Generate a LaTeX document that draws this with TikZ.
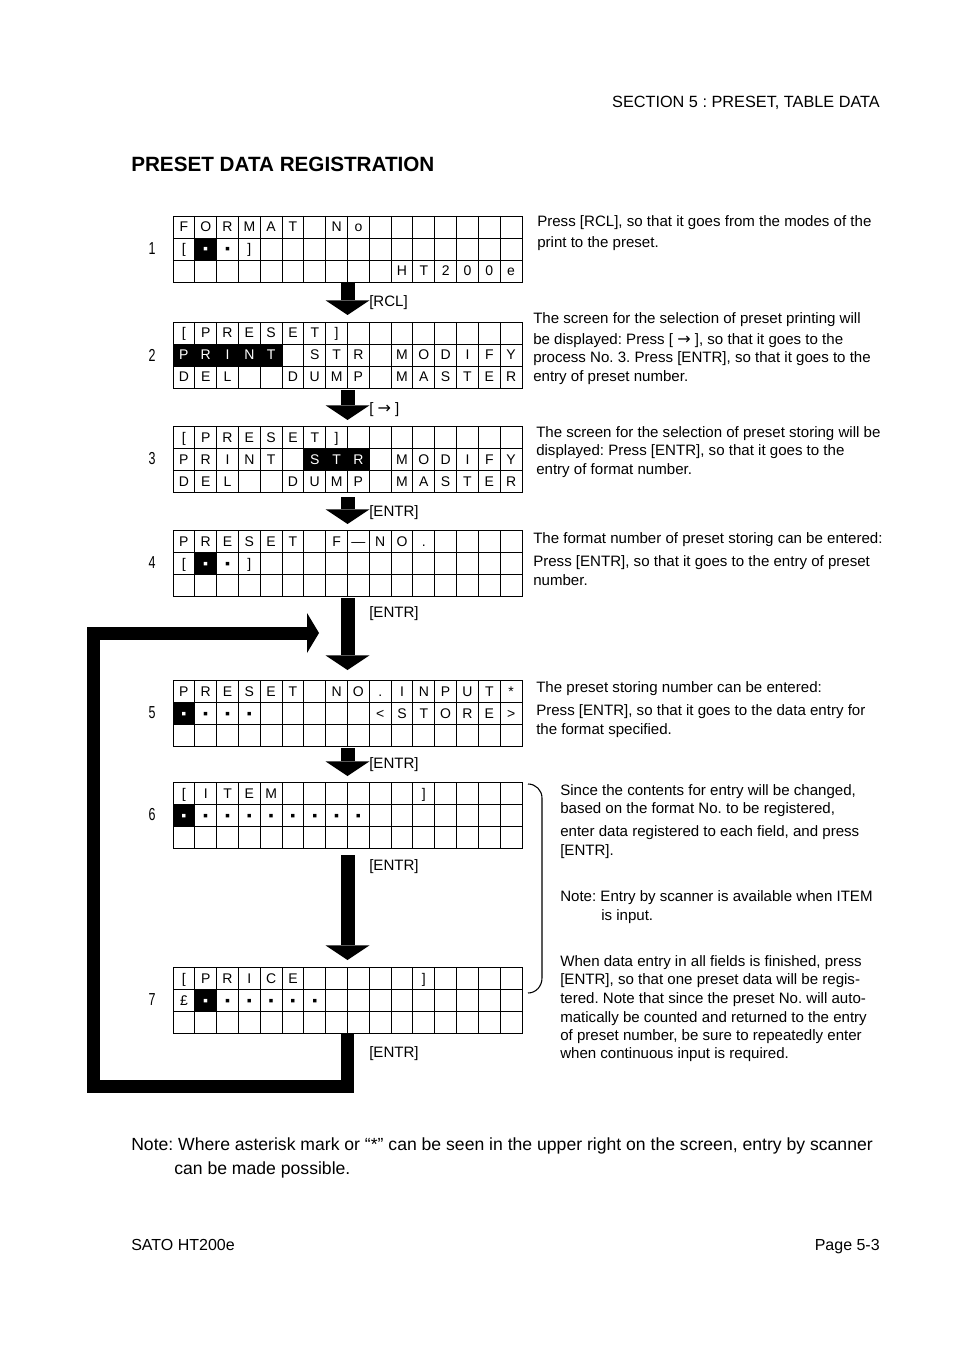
\documentclass[tikz,border=0pt]{standalone}
\usepackage{fontspec}
\setmainfont{Liberation Sans}
\newfontfamily\numfont[FakeStretch=0.72]{Liberation Sans}
\newfontfamily\arrowfont{DejaVu Sans}
\usetikzlibrary{arrows.meta}
\frenchspacing

\newcommand{\lcdw}{21.8125}
\newcommand{\lcddot}{▪}
\newcommand{\lcdinv}[1]{\textcolor{white}{#1}}
\newcommand{\rarr}{{\arrowfont\fontsize{12}{12}\selectfont →}}

% one LCD screen: name, top edge, step number
\newcommand{\lcdscreen}[3]{%
  \node[screen] (#1) at (347.5,#2+33) {};
  \node[stepnum] (#1num) at (152,#2+33) {#3};}
% inner rules: screen, rows that carry column rules
\newcommand{\lcdgrid}[2]{%
  \begin{scope}[shift={(#1.north west)}]
    \draw[gridline] (0,22) -- (349,22) (0,44) -- (349,44);
    \foreach \r in {#2}
      \foreach \k in {1,...,15}
        \draw[gridline] (\k*\lcdw,\r*22-22) -- (\k*\lcdw,\r*22);
  \end{scope}}
% black cursor cells: screen, row, first col, last col
\newcommand{\lcdfill}[4]{%
  \begin{scope}[shift={(#1.north west)}]
    \fill (#3*\lcdw-\lcdw,#2*22-22) rectangle (#4*\lcdw,#2*22);
  \end{scope}}
% characters of one row: screen, row, list
\newcommand{\lcdrow}[3]{%
  \begin{scope}[shift={(#1.north west)}]
    \foreach \ch [count=\i] in {#3}
      \node[lcd] (#1r#2c\i) at (\i*\lcdw-0.5*\lcdw,#2*22-6) {\ch};
  \end{scope}}

\begin{document}
\begin{tikzpicture}[x=0.75pt,y=-0.75pt,
  screen/.style={draw,line width=0.7pt,minimum width=261.75pt,minimum height=49.5pt,inner sep=0pt,outer sep=0pt},
  gridline/.style={line width=0.7pt},
  lcd/.style={anchor=base,inner sep=0pt,font=\fontsize{10.5}{12}\selectfont},
  stepnum/.style={inner sep=0pt,font=\numfont\fontsize{13}{15}\selectfont},
  keylbl/.style={anchor=base west,inner sep=0pt,font=\fontsize{11.3}{13}\selectfont},
  note/.style={anchor=base west,inner sep=0pt,font=\fontsize{11.3}{13}\selectfont},
  blockarrow/.style={line width=10.5pt,-{Triangle[width=33pt,length=11pt,line width=0pt]}},
  looparrow/.style={line width=9.75pt,line join=miter,-{Triangle[width=30pt,length=9pt,line width=0pt]}}]
  \useasboundingbox (0,0) rectangle (954,1351);

  % page head
  \node[anchor=base east,inner sep=0pt,font=\fontsize{12.2}{14}\selectfont] (head) at (880,107.5) {SECTION 5 : PRESET, TABLE DATA};
  \node[anchor=base west,inner sep=0pt,font=\bfseries\fontsize{15.5}{18}\selectfont] (title) at (131,172) {PRESET DATA REGISTRATION};

  % screens
  \lcdscreen{s1}{216}{1}
  \lcdscreen{s2}{322}{2}
  \lcdscreen{s3}{426}{3}
  \lcdscreen{s4}{530}{4}
  \lcdscreen{s5}{680}{5}
  \lcdscreen{s6}{782}{6}
  \lcdscreen{s7}{967}{7}
  \foreach \s in {s1,s2,s3,s4,s5,s6,s7} {\lcdgrid{\s}{1,2,3}}
  \lcdfill{s1}{2}{2}{2} \lcdfill{s2}{2}{1}{5} \lcdfill{s3}{2}{7}{9}
  \lcdfill{s4}{2}{2}{2} \lcdfill{s5}{2}{1}{1} \lcdfill{s6}{2}{1}{1} \lcdfill{s7}{2}{2}{2}

  \lcdrow{s1}{1}{F,O,R,M,A,T,{},N,o}
  \lcdrow{s1}{2}{[,\lcdinv{\lcddot},\lcddot,]}
  \lcdrow{s1}{3}{{},{},{},{},{},{},{},{},{},{},H,T,2,0,0,e}

  \lcdrow{s2}{1}{[,P,R,E,S,E,T,]}
  \lcdrow{s2}{2}{\lcdinv{P},\lcdinv{R},\lcdinv{I},\lcdinv{N},\lcdinv{T},{},S,T,R,{},M,O,D,I,F,Y}
  \lcdrow{s2}{3}{D,E,L,{},{},D,U,M,P,{},M,A,S,T,E,R}

  \lcdrow{s3}{1}{[,P,R,E,S,E,T,]}
  \lcdrow{s3}{2}{P,R,I,N,T,{},\lcdinv{S},\lcdinv{T},\lcdinv{R},{},M,O,D,I,F,Y}
  \lcdrow{s3}{3}{D,E,L,{},{},D,U,M,P,{},M,A,S,T,E,R}

  \lcdrow{s4}{1}{P,R,E,S,E,T,{},F,—,N,O,.}
  \lcdrow{s4}{2}{[,\lcdinv{\lcddot},\lcddot,]}

  \lcdrow{s5}{1}{P,R,E,S,E,T,{},N,O,.,I,N,P,U,T,*}
  \lcdrow{s5}{2}{\lcdinv{\lcddot},\lcddot,\lcddot,\lcddot,{},{},{},{},{},<,S,T,O,R,E,>}

  \lcdrow{s6}{1}{[,I,T,E,M,{},{},{},{},{},{},]}
  \lcdrow{s6}{2}{\lcdinv{\lcddot},\lcddot,\lcddot,\lcddot,\lcddot,\lcddot,\lcddot,\lcddot,\lcddot}

  \lcdrow{s7}{1}{[,P,R,I,C,E,{},{},{},{},{},]}
  \lcdrow{s7}{2}{£,\lcdinv{\lcddot},\lcddot,\lcddot,\lcddot,\lcddot,\lcddot}

  % key arrows
  \draw[blockarrow,shorten >=5.25pt] (s1.south) -- (s2.north);
  \draw[blockarrow,shorten <=1.5pt,shorten >=4.5pt] (s2.south) -- (s3.north);
  \draw[blockarrow,shorten <=3.75pt,shorten >=4.5pt] (s3.south) -- (s4.north);
  \draw[blockarrow,shorten <=1.5pt,shorten >=7.5pt] (s4.south) -- (s5.north);
  \draw[blockarrow,shorten <=1.5pt,shorten >=4.5pt] (s5.south) -- (s6.north);
  \draw[blockarrow,shorten <=5.25pt,shorten >=5.25pt] (s6.south) -- (s7.north);
  \node[keylbl] (k1) at (369,307) {[RCL]};
  \node[keylbl] (k2) at (369,413) {[ \rarr\ ]};
  \node[keylbl] (k3) at (369,516) {[ENTR]};
  \node[keylbl] (k4) at (369,617) {[ENTR]};
  \node[keylbl] (k5) at (369,768) {[ENTR]};
  \node[keylbl] (k6) at (369,870) {[ENTR]};
  \node[keylbl] (k7) at (369,1057) {[ENTR]};

  % return loop
  \coordinate (loopcorner) at (93,1086.5);
  \coordinate (loopend) at (319,633);
  \draw[looparrow] (s7.south) |- (loopcorner) |- (loopend);

  % explanations
  \node[note] (t1a) at (537,227) {Press [RCL], so that it goes from the modes of the};
  \node[note] (t1b) at (537,248) {print to the preset.};
  \node[note] (t2a) at (533,324) {The screen for the selection of preset printing will};
  \node[note] (t2b) at (533,345) {be displayed: Press [ \rarr\ ], so that it goes to the};
  \node[note] (t2c) at (533,363) {process No. 3. Press [ENTR], so that it goes to the};
  \node[note] (t2d) at (533,382) {entry of preset number.};
  \node[note] (t3a) at (536,437) {The screen for the selection of preset storing will be};
  \node[note] (t3b) at (536,455) {displayed: Press [ENTR], so that it goes to the};
  \node[note] (t3c) at (536,474) {entry of format number.};
  \node[note] (t4a) at (533,543) {The format number of preset storing can be entered:};
  \node[note] (t4b) at (533,566) {Press [ENTR], so that it goes to the entry of preset};
  \node[note] (t4c) at (533,585) {number.};
  \node[note] (t5a) at (536,692) {The preset storing number can be entered:};
  \node[note] (t5b) at (536,715) {Press [ENTR], so that it goes to the data entry for};
  \node[note] (t5c) at (536,734) {the format specified.};

  \draw[line width=0.8pt] (528,784) to[out=0,in=90] (542,798) -- (542,978) to[out=-90,in=0] (528,993);
  \node[note] (t6a) at (560,795) {Since the contents for entry will be changed,};
  \node[note] (t6b) at (560,813) {based on the format No. to be registered,};
  \node[note] (t6c) at (560,836) {enter data registered to each field, and press};
  \node[note] (t6d) at (560,855) {[ENTR].};
  \node[note] (t6e) at (560,901) {Note: Entry by scanner is available when ITEM};
  \node[note] (t6f) at (601,920) {is input.};
  \node[note] (t6g) at (560,966) {When data entry in all fields is finished, press};
  \node[note] (t6h) at (560,984) {[ENTR], so that one preset data will be regis-};
  \node[note] (t6i) at (560,1003) {tered. Note that since the preset No. will auto-};
  \node[note] (t6j) at (560,1022) {matically be counted and returned to the entry};
  \node[note] (t6k) at (560,1040) {of preset number, be sure to repeatedly enter};
  \node[note] (t6l) at (560,1058) {when continuous input is required.};

  % page foot
  \node[anchor=base west,inner sep=0pt,font=\fontsize{13.2}{15}\selectfont] (fn1) at (131,1150) {Note: Where asterisk mark or “*” can be seen in the upper right on the screen, entry by scanner};
  \node[anchor=base west,inner sep=0pt,font=\fontsize{13.2}{15}\selectfont] (fn2) at (174,1174) {can be made possible.};
  \node[anchor=base west,inner sep=0pt,font=\fontsize{12}{14}\selectfont] (foot) at (131,1250) {SATO HT200e};
  \node[anchor=base east,inner sep=0pt,font=\fontsize{12}{14}\selectfont] (page) at (880,1250) {Page 5-3};
\end{tikzpicture}
\end{document}
